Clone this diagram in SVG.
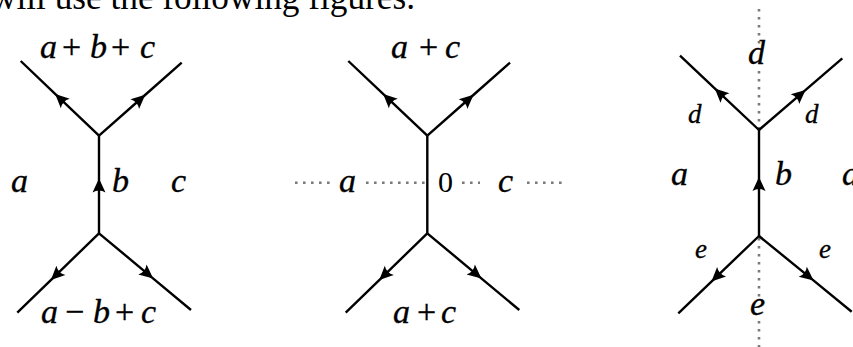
<svg xmlns="http://www.w3.org/2000/svg" width="853" height="347" viewBox="0 0 853 347">
<defs>
<style>
.leg{fill:none;stroke:#000;stroke-width:2.4;marker-mid:url(#arr)}
.dot{fill:none;stroke:#7a7a7a;stroke-width:2.6;stroke-dasharray:2.6 5.4}
.m{font-family:"Liberation Serif","Times New Roman",serif;font-style:italic;font-size:34px;fill:#000;stroke:#000;stroke-width:0.35}
.s{font-family:"Liberation Serif","Times New Roman",serif;font-style:italic;font-size:27px;fill:#000;stroke:#000;stroke-width:0.3}
.op{font-style:normal}
.body{font-family:"Liberation Serif","Times New Roman",serif;font-size:36px;fill:#000}
</style>
<marker id="arr" markerUnits="userSpaceOnUse" viewBox="-16 -9 18 18" markerWidth="18" markerHeight="18" refX="0" refY="0" orient="auto" overflow="visible">
<path d="M1,0 L-13,-6.5 Q-9,0 -13,6.5 Z" fill="#000"/>
</marker>
</defs>
<rect width="853" height="347" fill="#fff"/>
<text class="body" x="-9" y="9" textLength="424" lengthAdjust="spacingAndGlyphs">will use the following figures.</text>

<g id="fig1">
<g id="fig1-connectors">
<path class="leg" d="M99,135.7 L55.9,94.6 L20.7,61"/>
<path class="leg" d="M99,135.7 L144.5,95.5 L181.7,62.7"/>
<path class="leg" d="M99,233.3 L99,179.5 L99,135.7"/>
<path class="leg" d="M99,233.3 L51.6,279.4 L17.3,312.7"/>
<path class="leg" d="M99,233.3 L152.4,277.8 L191,310"/>
</g>
<g id="fig1-top"><text class="m" y="58"><tspan x="40">a</tspan><tspan class="op" x="62">+</tspan><tspan x="90">b</tspan><tspan class="op" x="111">+</tspan><tspan x="140">c</tspan></text></g>
<g id="fig1-a"><text class="m" x="11" y="192">a</text></g>
<g id="fig1-b"><text class="m" x="112" y="192">b</text></g>
<g id="fig1-c"><text class="m" x="171" y="192">c</text></g>
<g id="fig1-bottom"><text class="m" y="323"><tspan x="41">a</tspan><tspan class="op" x="65">−</tspan><tspan x="93">b</tspan><tspan class="op" x="115">+</tspan><tspan x="141">c</tspan></text></g>
</g>

<g id="fig2">
<g id="fig2-dotted">
<path class="dot" d="M295,182.7 H331 M366,182.7 H427 M462,182.7 H480 M527,182.7 H564"/>
</g>
<g id="fig2-connectors">
<path class="leg" d="M427.3,135.7 L383.9,94.6 L348.3,61"/>
<path class="leg" d="M427.3,135.7 L472.8,95.5 L510,62.7"/>
<path class="leg" d="M427.3,233.3 L427.3,135.7"/>
<path class="leg" d="M427.3,233.3 L380,279.4 L345.7,312.7"/>
<path class="leg" d="M427.3,233.3 L480.7,277.8 L519.3,310"/>
</g>
<g id="fig2-top"><text class="m" y="58"><tspan x="391">a</tspan><tspan class="op" x="419">+</tspan><tspan x="445">c</tspan></text></g>
<g id="fig2-a"><text class="m" x="339" y="192">a</text></g>
<g id="fig2-zero"><text class="m op" x="438" y="192" style="font-size:30px;stroke-width:0">0</text></g>
<g id="fig2-c"><text class="m" x="498" y="192">c</text></g>
<g id="fig2-bottom"><text class="m" y="323"><tspan x="393">a</tspan><tspan class="op" x="417">+</tspan><tspan x="441">c</tspan></text></g>
</g>

<g id="fig3">
<g id="fig3-dotted">
<path class="dot" d="M759,9 V46 M759,71 V130 M759,238 V298 M759,321 V347"/>
</g>
<g id="fig3-connectors">
<path class="leg" d="M759,130 L715.5,89.1 L680,55.7"/>
<path class="leg" d="M759,130 L804.8,90.6 L842.3,58.3"/>
<path class="leg" d="M759,236 L759,178 L759,130"/>
<path class="leg" d="M759,236 L712.2,280.8 L678.3,313.3"/>
<path class="leg" d="M759,236 L812.8,279.9 L851.7,311.7"/>
</g>
<g id="fig3-d-top"><text class="m" x="748" y="64">d</text></g>
<g id="fig3-d-left"><text class="s" x="688" y="123">d</text></g>
<g id="fig3-d-right"><text class="s" x="805" y="123">d</text></g>
<g id="fig3-a-left"><text class="m" x="671" y="185">a</text></g>
<g id="fig3-b"><text class="m" x="775" y="185">b</text></g>
<g id="fig3-a-right"><text class="m" x="842" y="185">a</text></g>
<g id="fig3-e-left"><text class="s" x="695" y="258">e</text></g>
<g id="fig3-e-right"><text class="s" x="819" y="258">e</text></g>
<g id="fig3-e-bottom"><text class="m" x="750" y="315">e</text></g>
</g>
</svg>
